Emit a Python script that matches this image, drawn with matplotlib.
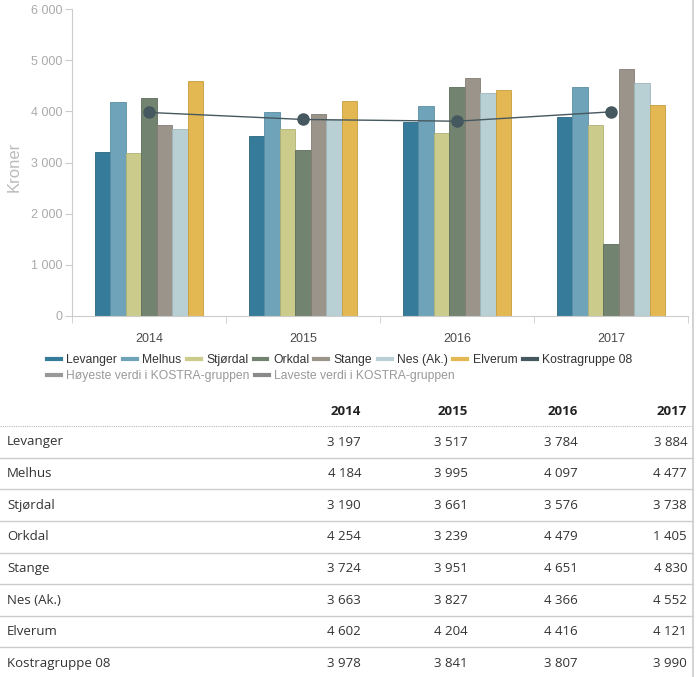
import numpy as np
import matplotlib.pyplot as plt
from matplotlib.lines import Line2D

years = ["2014", "2015", "2016", "2017"]
kommuner = ["Levanger", "Melhus", "Stjørdal", "Orkdal", "Stange", "Nes (Ak.)", "Elverum"]
levanger = [3197, 3517, 3784, 3884]
melhus = [4184, 3995, 4097, 4477]
stjordal = [3190, 3661, 3576, 3738]
orkdal = [4254, 3239, 4479, 1405]
stange = [3724, 3951, 4651, 4830]
nes = [3663, 3827, 4366, 4552]
elverum = [4602, 4204, 4416, 4121]
kostra = [3978, 3841, 3807, 3990]
kostra_name = "Kostragruppe 08"
extra_legend = ["Høyeste verdi i KOSTRA-gruppen", "Laveste verdi i KOSTRA-gruppen"]

series = [levanger, melhus, stjordal, orkdal, stange, nes, elverum]
colors = ["#367b99", "#6fa3b9", "#cbcb8b", "#72846f", "#9b948b", "#b8cfd3", "#e3b853"]
edges = ["#2c6680", "#5a8ea3", "#b0b074", "#5e6e5b", "#847d75", "#9fb6ba", "#c79e3e"]
kostra_col = "#46585f"

plt.rcParams["font.family"] = ["Liberation Sans", "DejaVu Sans"]

W, H = 696, 677
fig = plt.figure(figsize=(W / 100, H / 100), dpi=100, facecolor="white")

def fx(px):
    return px / W

def fy(py):
    return 1 - py / H

# diagram
ax = fig.add_axes([fx(72), fy(316), fx(688 - 72), (316 - 9) / H])
x = np.arange(len(years))
bw = 0.101
for i, vals in enumerate(series):
    ax.bar(x + (i - 3) * bw, vals, width=bw, color=colors[i], edgecolor=edges[i],
           linewidth=0.6, zorder=2)
ax.plot(x, kostra, color=kostra_col, lw=1, marker="o", ms=8, zorder=3)

ax.set_xlim(-0.5, 3.5)
ax.set_ylim(0, 6000)
ax.set_yticks(np.arange(0, 6001, 1000))
ax.set_yticklabels([f"{v:,}".replace(",", " ") if v else "0" for v in range(0, 6001, 1000)])
ax.set_xticks(x)
ax.set_xticklabels(years)
ax.set_xticks(np.arange(-0.5, 3.6, 1), minor=True)
ax.tick_params(axis="x", which="major", length=0, pad=12, labelsize=9, labelcolor="#4a4a4a")
ax.tick_params(axis="x", which="minor", length=5, color="#cccccc", direction="out")
ax.tick_params(axis="y", length=5, color="#cccccc", labelsize=9, labelcolor="#aaaaaa", pad=2)
for s in ["top", "right"]:
    ax.spines[s].set_visible(False)
ax.spines["left"].set_color("#cccccc")
ax.spines["bottom"].set_color("#cccccc")
fig.text(fx(14), fy(167), "Kroner", rotation=90, ha="center", va="center",
         fontsize=12, color="#bbbbbb")

# legend
h1 = [Line2D([], [], color=c, lw=3) for c in colors] + [Line2D([], [], color=kostra_col, lw=3)]
leg1 = fig.legend(h1, kommuner + [kostra_name], loc="upper left", bbox_to_anchor=(fx(47), fy(354)),
                  ncol=8, frameon=False, fontsize=8.7, handlelength=1.15, handletextpad=0.45,
                  columnspacing=0.45, borderpad=0, borderaxespad=0)
for t in leg1.get_texts():
    t.set_color("#333333")
h2 = [Line2D([], [], color="#999999", lw=3), Line2D([], [], color="#8a8a8a", lw=3)]
leg2 = fig.legend(h2, extra_legend, loc="upper left", bbox_to_anchor=(fx(47), fy(370)),
                  ncol=2, frameon=False, fontsize=8.7, handlelength=1.15, handletextpad=0.45,
                  columnspacing=0.45, borderpad=0, borderaxespad=0)
for t in leg2.get_texts():
    t.set_color("#999999")

# table
tf = ["Open Sans", "DejaVu Sans"]
col_right = [361, 468, 578, 687]
for yr, cx in zip(years, col_right):
    fig.text(fx(cx), fy(411), yr, ha="right", va="center", fontsize=9.5, fontweight="bold",
             color="#222222", family=tf)
fig.add_artist(Line2D([0, fx(693)], [fy(426), fy(426)], color="#bbbbbb", lw=0.8, ls=(0, (1, 1))))

rows = kommuner + [kostra_name]
table_vals = series + [kostra]
row_h = 31.6
for r, (name, vals) in enumerate(zip(rows, table_vals)):
    cy = 442 + r * row_h
    fig.text(fx(7), fy(cy), name, ha="left", va="center", fontsize=9.5, color="#333333", family=tf)
    for v, cx in zip(vals, col_right):
        fig.text(fx(cx), fy(cy), f"{v:,}".replace(",", " "), ha="right", va="center",
                 fontsize=9.5, color="#333333", family=tf)
    if r < len(rows) - 1:
        sy = cy + row_h / 2
        fig.add_artist(Line2D([0, fx(693)], [fy(sy), fy(sy)], color="#cccccc", lw=1))

# right border
fig.add_artist(Line2D([fx(693), fx(693)], [0, 1], color="#cccccc", lw=1.2))

plt.savefig("out.png", dpi=100, facecolor="white")
